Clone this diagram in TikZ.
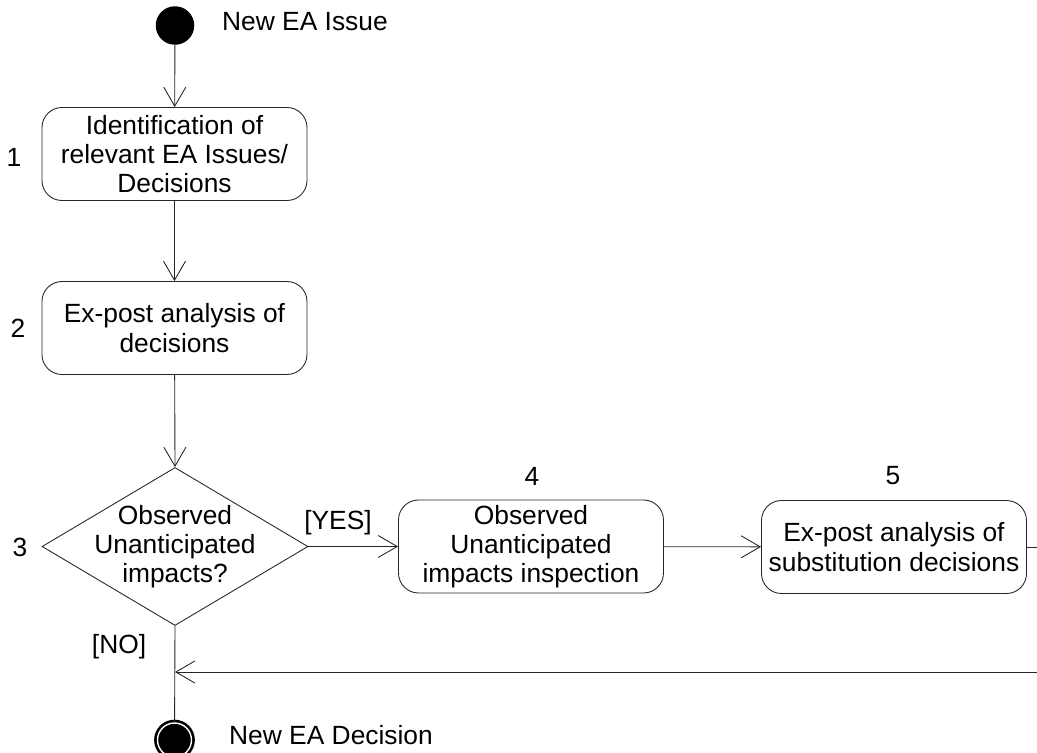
\documentclass[tikz,border=0pt]{standalone}
\usepackage{fontspec}
\setmainfont{Liberation Sans}
\usetikzlibrary{arrows.meta,shapes.geometric}
\begin{document}
\begin{tikzpicture}[
    every node/.style={font=\fontsize{15}{16.6}\selectfont, align=center},
    activity/.style={draw=black!85, line width=0.5pt, rectangle, rounded corners=0.4cm, minimum width=5.3cm, minimum height=1.86cm, inner sep=2pt},
    decision/.style={draw=black!85, line width=0.5pt, diamond, minimum width=5.32cm, minimum height=3.16cm, inner sep=0pt},
    flow/.style={draw=black!85, line width=0.5pt, -{Straight Barb[length=0.38cm,width=0.44cm,line width=0.5pt]}},
    plain/.style={draw=black!85, line width=0.5pt}]
    \useasboundingbox (0,0) rectangle (20.74,-15.06);
    \node[circle, fill=black, minimum size=0.77cm, inner sep=0pt] (start) at (3.5,-0.51) {};
    \node[anchor=west] (startlbl) at (4.32,-0.44) {New EA Issue};
    \node[activity] (ident) at (3.49,-3.08) {Identification of\\relevant EA Issues/\\Decisions};
    \node (n1) at (0.28,-3.14) {1};
    \node[activity] (expost) at (3.49,-6.56) {Ex-post analysis of\\decisions};
    \node (n2) at (0.36,-6.56) {2};
    \node[decision, label=center:{Observed\\Unanticipated\\impacts?}] (dec) at (3.5,-10.93) {};
    \node (n3) at (0.4,-10.94) {3};
    \node[activity] (inspect) at (10.62,-10.93) {Observed\\Unanticipated\\impacts inspection};
    \node (n4) at (10.64,-9.52) {4};
    \node[activity] (subst) at (17.88,-10.94) {Ex-post analysis of\\substitution decisions};
    \node (n5) at (17.86,-9.52) {5};
    \node[circle, fill=black, draw=black, double=white, double distance=0.8pt, line width=1.5pt, minimum size=0.68cm, inner sep=0pt] (stop) at (3.49,-14.8) {};
    \node[anchor=west] (stoplbl) at (4.46,-14.7) {New EA Decision};
    \coordinate (out1) at (20.8,-10.94);
    \coordinate (out2) at (20.8,-13.44);
    \coordinate (merge) at (3.5,-13.44);

    \draw[flow] (start) -- (ident);
    \draw[flow] (ident) -- (expost);
    \draw[flow] (expost) -- (dec.north);
    \draw[flow] (dec.east) -- node[above=3pt, pos=0.33]{[YES]} (inspect);
    \draw[flow] (inspect) -- (subst);
    \draw[plain] (subst) -- (out1);
    \draw[flow] (out2) -- (merge);
    \draw[plain] (dec.south) -- node[left=0.45cm, pos=0.22]{[NO]} (stop);
\end{tikzpicture}
\end{document}
